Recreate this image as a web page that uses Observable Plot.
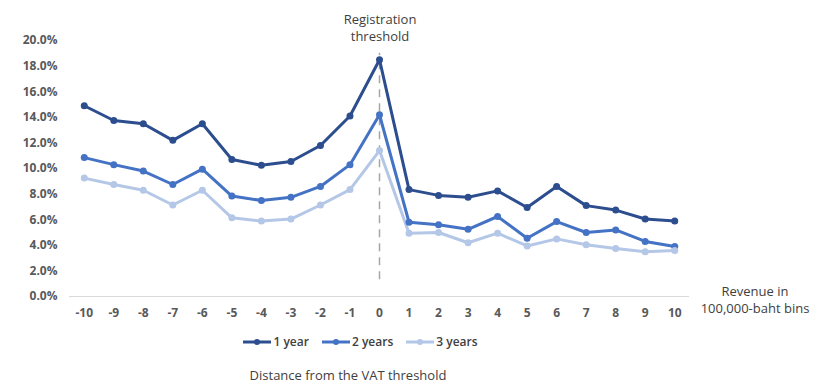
<!DOCTYPE html>
<html>
<head>
<meta charset="utf-8">
<script src="https://cdn.jsdelivr.net/npm/d3@7"></script>
<script src="https://cdn.jsdelivr.net/npm/@observablehq/plot@0.6"></script>
<style>
  body { margin: 0; background: #fff; }
  #wrap { position: relative; width: 819px; height: 388px; font-family: "Open Sans", sans-serif; color: #404040; }
  .ann { position: absolute; font-size: 13px; line-height: 17px; text-align: center; color: #404040; }
  #legend { position: absolute; top: 333px; left: 0; width: 720px; display: flex; justify-content: center; gap: 12px; font-size: 12px; font-weight: 600; color: #404040; }
  #legend span { display: inline-flex; align-items: center; gap: 1px; }
</style>
</head>
<body>
<div id="wrap">
  <div id="chart"></div>
  <div class="ann" style="left:320px; top:11px; width:120px;">Registration<br>threshold</div>
  <div class="ann" style="left:690px; top:283px; width:130px;">Revenue in<br>100,000-baht bins</div>
  <div id="legend"></div>
  <div class="ann" style="left:198px; top:367px; width:300px;">Distance from the VAT threshold</div>
</div>
<script>
const bins = [-10,-9,-8,-7,-6,-5,-4,-3,-2,-1,0,1,2,3,4,5,6,7,8,9,10];
const series = ["1 year", "2 years", "3 years"];
const colors = ["#2C4D8E", "#4472C4", "#B4C7E7"];
const year1 = [14.9,13.75,13.5,12.2,13.5,10.7,10.25,10.55,11.8,14.1,18.5,8.35,7.9,7.75,8.25,6.95,8.6,7.1,6.75,6.05,5.9];
const year2 = [10.85,10.3,9.8,8.75,9.95,7.85,7.5,7.75,8.6,10.3,14.2,5.8,5.6,5.25,6.25,4.55,5.85,5.0,5.2,4.3,3.9];
const year3 = [9.25,8.75,8.3,7.15,8.3,6.15,5.9,6.05,7.15,8.35,11.4,4.95,5.0,4.2,4.95,3.95,4.5,4.05,3.75,3.5,3.6];
const yTicks = [0,0.02,0.04,0.06,0.08,0.10,0.12,0.14,0.16,0.18,0.20];
const threshold = 0;

const vals = [year1, year2, year3];
const data = [];
series.forEach((s, i) => bins.forEach((b, j) => data.push({bin: b, value: vals[i][j] / 100, series: s})));

const chart = Plot.plot({
  width: 819,
  height: 325,
  marginTop: 40,
  marginBottom: 29,
  marginLeft: 69,
  marginRight: 130,
  style: {fontFamily: "Open Sans, sans-serif", fontSize: "12px", color: "#595959", background: "#fff"},
  x: {type: "point", domain: bins, padding: 0.5, round: false, label: null},
  y: {domain: [0, 0.2], ticks: yTicks, tickFormat: d3.format(".1%"), label: null},
  color: {domain: series, range: colors},
  marks: [
    Plot.axisY({ticks: yTicks, tickFormat: d3.format(".1%"), tickSize: 0, tickPadding: 12, fontWeight: "bold", fill: "#595959", label: null}),
    Plot.axisX({tickSize: 0, tickPadding: 12, fontWeight: "bold", fill: "#595959", label: null}),
    Plot.ruleY([0], {stroke: "#D9D9D9", strokeWidth: 1.2}),
    Plot.ruleX([threshold], {y1: 0.013, y2: 0.19, stroke: "#A6A6A6", strokeWidth: 1.5, strokeDasharray: "8,6"}),
    Plot.line(data, {x: "bin", y: "value", stroke: "series", z: "series", strokeWidth: 3}),
    Plot.dot(data, {x: "bin", y: "value", fill: "series", r: 3.5})
  ]
});
document.getElementById("chart").appendChild(chart);

const legend = document.getElementById("legend");
series.forEach((s, i) => {
  const span = document.createElement("span");
  span.innerHTML = `<svg width="30" height="10"><line x1="1" y1="5" x2="29" y2="5" stroke="${colors[i]}" stroke-width="3"/><circle cx="15" cy="5" r="3" fill="${colors[i]}"/></svg>${s}`;
  legend.appendChild(span);
});
</script>
</body>
</html>
